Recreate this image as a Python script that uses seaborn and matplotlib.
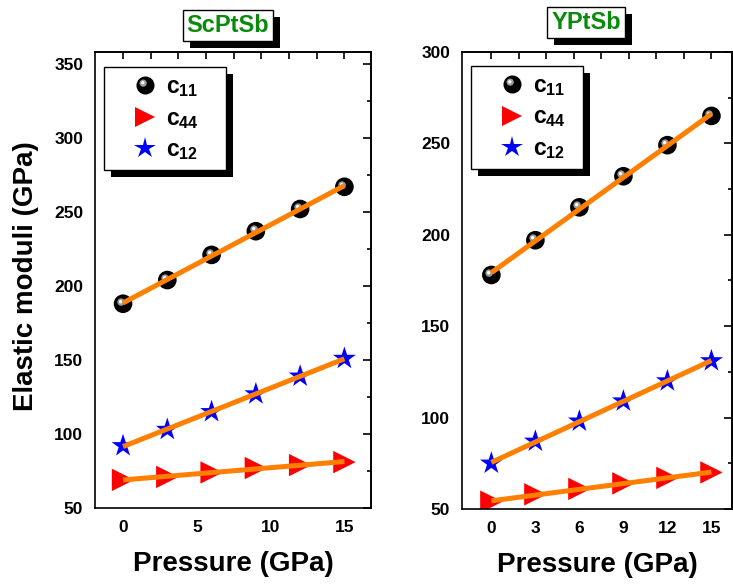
import numpy as np
import pandas as pd
import matplotlib
matplotlib.use("Agg")
import matplotlib.pyplot as plt
import seaborn as sns
from matplotlib.path import Path
from matplotlib.markers import MarkerStyle
from matplotlib.lines import Line2D
from matplotlib.patches import Rectangle
from matplotlib.transforms import IdentityTransform
from matplotlib.legend_handler import HandlerTuple
from matplotlib.ticker import MultipleLocator, FixedLocator

# ---------------- data ----------------
pressure = [0, 3, 6, 9, 12, 15]

sc_c11 = [188, 204, 221, 237, 252, 267]
sc_c44 = [69, 71, 74, 77, 79, 81]
sc_c12 = [92, 103, 115, 127, 139, 151]

y_c11 = [178, 197, 215, 232, 249, 265]
y_c44 = [54, 58, 61, 64, 67, 70]
y_c12 = [75, 87, 98, 109, 120, 131]

titles = ["ScPtSb", "YPtSb"]
series_labels = [r"$\mathbf{c}_{\mathbf{11}}$", r"$\mathbf{c}_{\mathbf{44}}$", r"$\mathbf{c}_{\mathbf{12}}$"]
xlabel = "Pressure (GPa)"
ylabel = "Elastic moduli (GPa)"

# ---------------- style ----------------
sns.set_theme(style="white")
plt.rcParams["font.family"] = ["Liberation Sans", "DejaVu Sans"]
plt.rcParams["font.weight"] = "bold"
plt.rcParams["axes.labelweight"] = "bold"
plt.rcParams["mathtext.fontset"] = "custom"
plt.rcParams["mathtext.bf"] = "Liberation Sans:bold"
plt.rcParams["mathtext.rm"] = "Liberation Sans:bold"
plt.rcParams["axes.edgecolor"] = "black"
plt.rcParams["axes.linewidth"] = 1.2
plt.rcParams["text.color"] = "black"
plt.rcParams["axes.labelcolor"] = "black"
plt.rcParams["xtick.color"] = "black"
plt.rcParams["ytick.color"] = "black"

ORANGE = "#ff8000"
GREEN = "#0a8a0a"


def offset_circle(cx, cy, r):
    circ = Path.circle((cx, cy), r)
    frame = Path([[-0.5, -0.5], [0.5, 0.5]], [Path.MOVETO, Path.MOVETO])
    return MarkerStyle(Path.make_compound_path(frame, circ))


HL1 = offset_circle(-0.13, 0.13, 0.2)
HL2 = offset_circle(-0.15, 0.15, 0.09)

fig = plt.figure(figsize=(7.33, 5.86), dpi=100)
ax_l = fig.add_axes([0.1296, 0.1331, 0.3765, 0.778])
ax_r = fig.add_axes([0.6303, 0.1314, 0.3683, 0.780])

panels = [
    dict(ax=ax_l, c11=sc_c11, c44=sc_c44, c12=sc_c12, title=titles[0],
         xlim=(-1.9, 16.8), ylim=(50, 358),
         xmajor=[0, 5, 10, 15], xminor_step=2.5,
         title_pos=(0.482, 1.058), leg_box=(0.0326, 0.967, 0.442)),
    dict(ax=ax_r, c11=y_c11, c44=y_c44, c12=y_c12, title=titles[1],
         xlim=(-2.0, 16.4), ylim=(50, 300),
         xmajor=[0, 3, 6, 9, 12, 15], xminor_step=1.5,
         title_pos=(0.459, 1.0646), leg_box=(0.033, 0.969, 0.415)),
]

legends = []
title_texts = []
for p in panels:
    ax = p["ax"]
    df = pd.DataFrame({"P": pressure, "c11": p["c11"], "c44": p["c44"], "c12": p["c12"]})

    # markers
    sns.scatterplot(data=df, x="P", y="c11", marker="o", s=180, color="black",
                    edgecolor="none", linewidth=0, ax=ax, zorder=2)
    ax.scatter(df["P"], df["c11"], marker=HL1, s=180, color="#9c9c9c", linewidths=0, zorder=2.1)
    ax.scatter(df["P"], df["c11"], marker=HL2, s=180, color="#ffffff", linewidths=0, zorder=2.2)
    sns.scatterplot(data=df, x="P", y="c44", marker=">", s=260, color="#ff0000",
                    edgecolor="none", linewidth=0, ax=ax, zorder=2)
    sns.scatterplot(data=df, x="P", y="c12", marker="*", s=300, color="#0000ff",
                    edgecolor="none", linewidth=0, ax=ax, zorder=2)

    # linear fits
    for col in ["c11", "c44", "c12"]:
        sns.regplot(data=df, x="P", y=col, ci=None, scatter=False, truncate=True,
                    line_kws=dict(color=ORANGE, lw=3.6, zorder=3, solid_capstyle="butt"), ax=ax)

    ax.set_xlim(*p["xlim"])
    ax.set_ylim(*p["ylim"])
    ax.xaxis.set_major_locator(FixedLocator(p["xmajor"]))
    ax.xaxis.set_minor_locator(MultipleLocator(p["xminor_step"]))
    ax.yaxis.set_major_locator(MultipleLocator(50))
    ax.yaxis.set_minor_locator(MultipleLocator(25))
    ax.tick_params(axis="both", which="major", direction="out", length=5.5, width=1.2,
                   labelsize=12.5, top=False, right=False, colors="black", pad=3)
    ax.tick_params(axis="both", which="minor", direction="out", length=3.2, width=1.2,
                   top=False, right=False, colors="black")
    for lab in ax.get_xticklabels() + ax.get_yticklabels():
        lab.set_fontweight("bold")
    for s in ax.spines.values():
        s.set_linewidth(1.2)
        s.set_color("black")
        s.set_visible(True)

    # top & right inward ticks
    sec_x = ax.secondary_xaxis("top")
    sec_x.set_xticks(list(np.linspace(0, 15, 9)))
    sec_x.tick_params(axis="x", which="both", direction="in", length=5, width=1.2,
                      labeltop=False, labelbottom=False)
    sec_x.spines["top"].set_linewidth(1.2)
    sec_y = ax.secondary_yaxis("right")
    sec_y.yaxis.set_major_locator(MultipleLocator(50))
    sec_y.yaxis.set_minor_locator(MultipleLocator(25))
    sec_y.tick_params(axis="y", which="major", direction="in", length=5.5, width=1.2,
                      labelright=False, labelleft=False)
    sec_y.tick_params(axis="y", which="minor", direction="in", length=3.2, width=1.2)
    sec_y.spines["right"].set_linewidth(1.2)

    ax.set_xlabel(xlabel, fontsize=20, fontweight="bold", color="black")
    ax.xaxis.set_label_coords(0.5, -0.095)
    ax.set_ylabel("")

    # title box (shadow added after layout)
    tx, ty = p["title_pos"]
    t = ax.text(tx, ty, p["title"], transform=ax.transAxes, ha="center", va="center",
                fontsize=17, fontweight="bold", color=GREEN, zorder=6, clip_on=False,
                bbox=dict(boxstyle="square,pad=0.16", fc="white", ec="black", lw=1))
    title_texts.append((ax, t))

    # legend
    h_c11 = (Line2D([], [], marker="o", ms=13, color="black", ls="none", mew=0),
             Line2D([], [], marker=HL1, ms=13, color="#9c9c9c", ls="none", mew=0),
             Line2D([], [], marker=HL2, ms=13, color="white", ls="none", mew=0))
    h_c44 = Line2D([], [], marker=">", ms=15, color="#ff0000", ls="none", mew=0)
    h_c12 = Line2D([], [], marker="*", ms=16, color="#0000ff", ls="none", mew=0)
    lx, ly, lw = p["leg_box"]
    leg = ax.legend([h_c11, h_c44, h_c12], series_labels,
                    handler_map={tuple: HandlerTuple(ndivide=1)},
                    loc="upper left", bbox_to_anchor=(lx, ly - 0.3, lw, 0.3), mode="expand",
                    borderaxespad=0, fontsize=16.5, frameon=True, fancybox=False,
                    edgecolor="black", framealpha=1, borderpad=0.35, handlelength=2.9,
                    handletextpad=-0.55, labelspacing=0.33)
    leg.get_frame().set_linewidth(1.0)
    leg.set_zorder(5)
    for txt in leg.get_texts():
        txt.set_color("black")
    legends.append((ax, leg))

ax_l.set_ylabel(ylabel, fontsize=20, fontweight="bold", color="black")
ax_l.yaxis.set_label_coords(-0.203, 0.509)

# shadows for legends and title boxes
fig.canvas.draw()
off = 7
for ax, leg in legends:
    bb = leg.get_window_extent()
    ax.add_artist(Rectangle((bb.x0 + off, bb.y0 - off), bb.width, bb.height,
                            transform=IdentityTransform(), fc="black", ec="none",
                            zorder=4.5, clip_on=False))
for ax, t in title_texts:
    bb = t.get_bbox_patch().get_window_extent()
    ax.add_artist(Rectangle((bb.x0 + off, bb.y0 - off), bb.width, bb.height,
                            transform=IdentityTransform(), fc="black", ec="none",
                            zorder=5.5, clip_on=False))

fig.savefig("out.png", dpi=100, facecolor="white")
